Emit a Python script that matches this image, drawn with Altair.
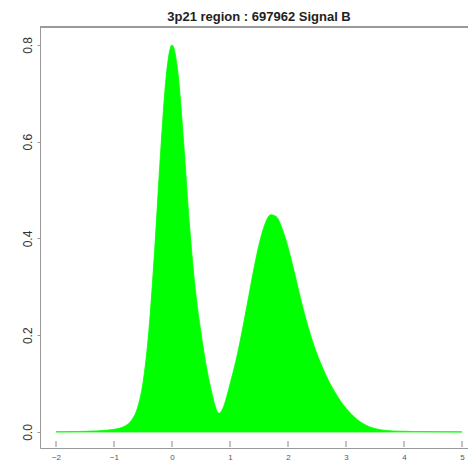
import altair as alt
import pandas as pd

title_text = "3p21 region : 697962 Signal B"

x_vals = [-2.0, -1.9, -1.8, -1.7, -1.6, -1.5, -1.4, -1.3, -1.2, -1.1,
          -1.0, -0.9, -0.8, -0.7, -0.6, -0.5, -0.4, -0.3, -0.2, -0.1,
          0.0, 0.1, 0.2, 0.3, 0.4, 0.5, 0.6, 0.65, 0.7, 0.75, 0.775, 0.8, 0.825, 0.85, 0.9, 0.95,
          1.0, 1.05, 1.1, 1.2, 1.3, 1.4, 1.5, 1.6, 1.7, 1.8, 1.9,
          2.0, 2.1, 2.2, 2.3, 2.4, 2.5, 2.6, 2.7, 2.8, 2.9,
          3.0, 3.1, 3.2, 3.3, 3.4, 3.5, 3.6, 3.7, 3.8, 3.9,
          4.0, 4.1, 4.2, 4.3, 4.4, 4.5, 4.6, 4.7, 4.8, 4.9, 5.0]

density = [0.0005, 0.0006, 0.0007, 0.0009, 0.0011, 0.0014, 0.0018, 0.0023, 0.003, 0.004,
           0.0055, 0.008, 0.013, 0.024, 0.048, 0.102, 0.208, 0.375, 0.572, 0.735,
           0.80, 0.745, 0.6, 0.43, 0.297, 0.205, 0.13, 0.1, 0.074, 0.051, 0.043, 0.039, 0.039, 0.043, 0.056, 0.076,
           0.099, 0.122, 0.146, 0.203, 0.266, 0.33, 0.387, 0.429, 0.449, 0.445, 0.42,
           0.382, 0.335, 0.284, 0.237, 0.196, 0.161, 0.132, 0.106, 0.084, 0.065,
           0.049, 0.036, 0.025, 0.017, 0.011, 0.007, 0.0045, 0.003, 0.0022, 0.0017,
           0.0014, 0.0012, 0.001, 0.0009, 0.0008, 0.0007, 0.0006, 0.0005, 0.0004, 0.0003, 0.0002]

x_ticks = [-2, -1, 0, 1, 2, 3, 4, 5]
y_ticks = [0.0, 0.2, 0.4, 0.6, 0.8]

W, H = 428, 421
x_dom = [-2.276, -2.276 + W / 58.0]
y_dom = [-0.0331, 0.8372]

df = pd.DataFrame({"x": x_vals, "d": density})
tick_df = pd.DataFrame({"t": x_ticks})

xscale = alt.Scale(domain=x_dom, nice=False, zero=False)
yscale = alt.Scale(domain=y_dom, nice=False, zero=False)

area = alt.Chart(df).mark_area(
    color="#00ff00", interpolate="monotone", clip=True,
    stroke="#00ff00", strokeWidth=0.8
).encode(
    x=alt.X("x:Q", scale=xscale,
            axis=alt.Axis(values=x_ticks, title=None, format="d", ticks=False, tickSize=0,
                          labelFontSize=8, labelColor="#555", labelPadding=5,
                          labelFlush=False,
                          domainColor="#999", grid=False, labelFont="Liberation Sans")),
    y=alt.Y("d:Q", scale=yscale,
            axis=alt.Axis(values=y_ticks, title=None, format=".1f", tickSize=3,
                          tickColor="#999", domainColor="#999", labelAngle=270,
                          labelAlign="center", labelBaseline="bottom",
                          labelFontSize=12, labelColor="#333", labelPadding=3,
                          labelFlush=False,
                          grid=False, labelFont="Liberation Sans")),
    y2=alt.datum(0),
)

ticks = alt.Chart(tick_df).mark_rule(color="#888", strokeWidth=1).encode(
    x=alt.X("t:Q", scale=xscale),
    y=alt.value(H - 1),
    y2=alt.value(H - 7),
)

top_line = alt.Chart(tick_df).mark_rule(color="#999", strokeWidth=1).encode(
    x=alt.value(0), x2=alt.value(W), y=alt.value(0)
)

chart = alt.layer(area, ticks, top_line).properties(
    width=W, height=H,
    title=alt.TitleParams(title_text, fontSize=13, font="Liberation Sans",
                          fontWeight="bold", color="#222", offset=3, anchor="middle", dx=5),
    autosize=alt.AutoSizeParams(type="none"),
    padding={"left": 32, "top": 19, "right": 0, "bottom": 16},
).configure_view(stroke=None)

chart.save("out.html", embed_options={"renderer": "svg", "actions": False})
